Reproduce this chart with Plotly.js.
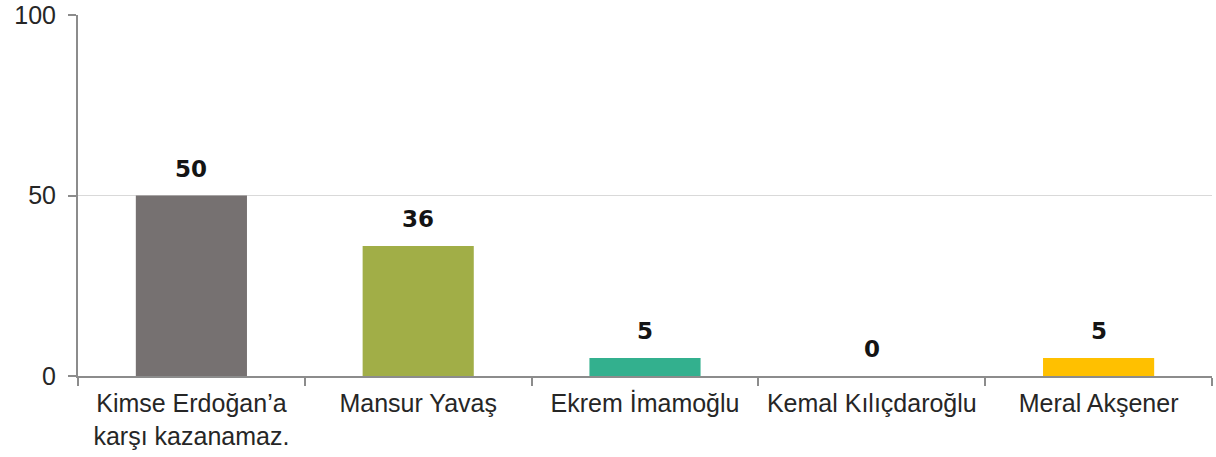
<!DOCTYPE html>
<html>
<head>
<meta charset="utf-8">
<script src="https://cdn.plot.ly/plotly-3.0.1.min.js"></script>
<style>html,body{margin:0;padding:0;background:#fff;}#chart{width:1216px;height:457px;}</style>
</head>
<body>
<div id="chart"></div>
<script>
const categories = ["Kimse Erdoğan’a<br>karşı kazanamaz.", "Mansur Yavaş", "Ekrem İmamoğlu", "Kemal Kılıçdaroğlu", "Meral Akşener"];
const values = [50, 36, 5, 0, 5];
const barColors = ["#767171", "#a1ae47", "#33b08e", "#a6a6a6", "#ffc000"];
const yTickVals = [0, 50, 100];
const yTickText = ["0", "50", "100"];

const trace = {
  type: "bar",
  x: categories,
  y: values,
  marker: {color: barColors},
  width: 0.49,
  hoverinfo: "none"
};

const annotations = categories.map((c, i) => ({
  x: c, y: values[i], xref: "x", yref: "y",
  text: String(values[i]),
  showarrow: false,
  yanchor: "middle",
  yshift: 27,
  font: {family: "DejaVu Sans", size: 23, color: "#141414", weight: "bold"}
}));

const layout = {
  width: 1216, height: 457,
  margin: {l: 78, r: 4, t: 15, b: 81},
  paper_bgcolor: "#fff", plot_bgcolor: "#fff",
  showlegend: false,
  font: {family: "Liberation Sans", size: 25, color: "#262626"},
  xaxis: {
    type: "category",
    showline: true, linecolor: "#8c8c8c", linewidth: 2,
    ticks: "outside", tickson: "boundaries", ticklen: 8, tickcolor: "#8c8c8c", tickwidth: 2,
    showgrid: false, zeroline: false,
    ticklabelstandoff: 4,
    tickfont: {family: "Liberation Sans", size: 25, color: "#262626"},
    fixedrange: true
  },
  yaxis: {
    range: [0, 100],
    tickvals: yTickVals, ticktext: yTickText,
    showline: true, linecolor: "#8c8c8c", linewidth: 2,
    ticks: "outside", ticklen: 8, tickcolor: "#8c8c8c", tickwidth: 2,
    showgrid: true, gridcolor: "#d9d9d9", gridwidth: 1.5,
    zeroline: false,
    ticklabelstandoff: 7,
    tickfont: {family: "Liberation Sans", size: 25, color: "#262626"},
    fixedrange: true
  },
  annotations: annotations
};

Plotly.newPlot("chart", [trace], layout, {displayModeBar: false, staticPlot: true});
</script>
</body>
</html>
